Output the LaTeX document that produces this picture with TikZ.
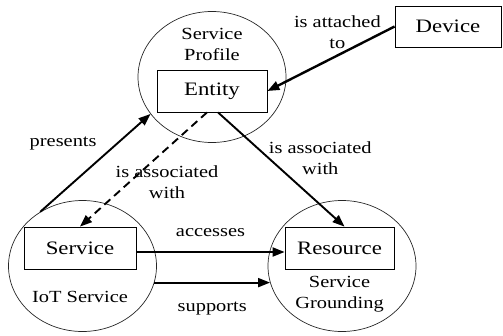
\documentclass[tikz,border=0pt]{standalone}
\usepackage{fontspec}
\setmainfont{Liberation Serif}[FakeStretch=1.2]
\usetikzlibrary{arrows.meta,shapes.geometric,positioning}

\begin{document}
\begin{tikzpicture}[x=1pt,y=-1pt,>={Triangle[length=12pt,width=9pt]},
    every node/.style={font=\fontsize{17}{21}\selectfont,align=center},
    concept/.style={draw,rectangle,line width=0.8pt,minimum height=42pt,
      font=\fontsize{19}{22}\selectfont},
    area/.style={draw=black!85,ellipse,line width=0.7pt,inner sep=0pt,
      minimum width=148pt,minimum height=131pt},
    rel/.style={->,line width=1.9pt}]

    \useasboundingbox (0,0) rectangle (503,335);

    \node[area] (profile) at (212,77) {};
    \node[area] (iot) at (82.5,266) {};
    \node[area] (grounding) at (342,266) {};

    \node[concept,minimum width=110pt] (entity) at (212,91) {Entity};
    \node[concept,minimum width=106pt,minimum height=41pt] (device) at (448,26.5) {Device};
    \node[concept,minimum width=112pt] (service) at (80,248) {Service};
    \node[concept,minimum width=109pt] (resource) at (339.5,248) {Resource};

    \node (proflabel) [above=5pt of entity] {Service\\Profile};
    \node (iotlabel) [below=18pt of service] {IoT Service};
    \node (groundlabel) [below=3pt of resource] {Service\\Grounding};

    \path[rel] (device.west) edge[line width=2.4pt] node[above,pos=0.45,yshift=2pt] {is attached\\to} (entity.east)
               (iot.128.7) edge node[above left,pos=0.55,yshift=4pt] {presents} (profile.211.4)
               ([xshift=6pt]entity.south) edge node[xshift=39pt,yshift=11pt] {is associated\\with} ([xshift=5pt]resource.north)
               ([yshift=-4pt]service.east) edge node[above,yshift=11pt] {accesses} ([yshift=-4pt]resource.west)
               (iot.-13.5) edge node[below,yshift=-15pt] {supports} (grounding.193.5);
    \path[rel,dash pattern=on 8pt off 5pt] ([xshift=-5pt]entity.south) edge node[xshift=23.5pt,yshift=-12.5pt] {is associated\\with} (service.north);

\end{tikzpicture}
\end{document}
